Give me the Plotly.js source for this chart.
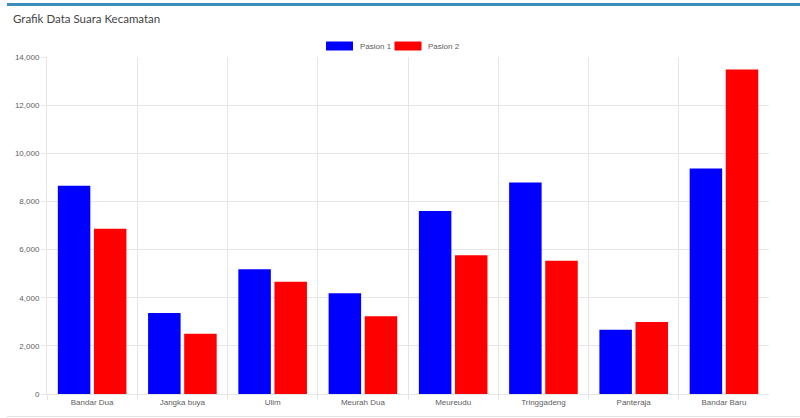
<!DOCTYPE html>
<html>
<head>
<meta charset="utf-8">
<script src="https://cdn.plot.ly/plotly-3.0.1.min.js"></script>
<style>
  html, body { margin: 0; padding: 0; background: #fff; }
  #wrap { position: relative; width: 800px; height: 418px; overflow: hidden; }
  #topline { position: absolute; left: 7px; right: 0; top: 3px; height: 3px; background: #3c8dbc; }
  #botline { position: absolute; left: 7px; right: 0; top: 416px; height: 1px; background: #e3e3e3; }
  #chart { position: absolute; left: 0; top: 0; width: 800px; height: 418px; }
</style>
</head>
<body>
<div id="wrap">
  <div id="topline"></div>
  <div id="botline"></div>
  <div id="chart"></div>
</div>
<script>
const chartTitle = "Grafik Data Suara Kecamatan";
const categories = ["Bandar Dua", "Jangka buya", "Ulim", "Meurah Dua", "Meureudu", "Tringgadeng", "Panteraja", "Bandar Baru"];
const seriesNames = ["Pasion 1", "Pasion 2"];
const pasion1 = [8650, 3360, 5180, 4190, 7600, 8790, 2670, 9370];
const pasion2 = [6870, 2500, 4660, 3230, 5760, 5540, 2990, 13480];
const yTicks = [0, 2000, 4000, 6000, 8000, 10000, 12000, 14000];
const colors = ["#0000ff", "#ff0000"];

const grid = "#e6e6e6";
const tickFont = { family: "Liberation Sans, Arial, sans-serif", size: 8, color: "#606060" };

const traces = [pasion1, pasion2].map((vals, i) => ({
  type: "bar",
  name: seriesNames[i],
  x: categories,
  y: vals,
  marker: { color: colors[i], line: { width: 0 } },
  hoverinfo: "x+y+name"
}));

// custom legend (Chart.js style) in paper coordinates
const L = 47, W = 722, T = 57, H = 337;
const px = v => (v - L) / W;
const py = v => 1 + (T - v) / H;
const legendItems = [
  { box: [326, 353], text: 357.5 },
  { box: [394.5, 421.5], text: 425.5 }
];
const shapes = legendItems.map((it, i) => ({
  type: "rect", xref: "paper", yref: "paper",
  x0: px(it.box[0]), x1: px(it.box[1]), y0: py(50.5), y1: py(41.5),
  fillcolor: colors[i], line: { width: 0 }
}));
const annotations = legendItems.map((it, i) => ({
  xref: "paper", yref: "paper", x: px(it.text), y: py(46),
  xanchor: "left", yanchor: "middle", showarrow: false,
  text: seriesNames[i], font: tickFont
}));

const layout = {
  width: 800, height: 418,
  margin: { l: L, r: 800 - L - W, t: T, b: 418 - T - H, pad: 0 },
  paper_bgcolor: "rgba(0,0,0,0)",
  plot_bgcolor: "rgba(0,0,0,0)",
  title: {
    text: chartTitle, x: 13 / 800, xanchor: "left", xref: "container",
    y: 1 - 19 / 418, yanchor: "middle", yref: "container",
    font: { family: "Lato, 'Open Sans', sans-serif", size: 11.5, color: "#444" }
  },
  showlegend: false,
  barmode: "group",
  bargap: 0.2,
  bargroupgap: 0.1,
  xaxis: {
    type: "category",
    tickson: "boundaries",
    showgrid: true, gridcolor: grid, gridwidth: 1,
    ticks: "outside", ticklen: 5, tickcolor: grid,
    showline: true, linecolor: grid,
    tickfont: tickFont,
    range: [-0.5, categories.length - 0.501],
    fixedrange: true
  },
  yaxis: {
    range: [0, 14000],
    tickvals: yTicks,
    tickformat: ",",
    showgrid: true, gridcolor: grid, gridwidth: 1,
    zeroline: false,
    ticks: "outside", ticklen: 5, tickcolor: grid,
    showline: true, linecolor: grid,
    tickfont: tickFont,
    fixedrange: true
  },
  shapes: shapes,
  annotations: annotations
};

Plotly.newPlot("chart", traces, layout, { displayModeBar: false, staticPlot: true });
</script>
</body>
</html>
